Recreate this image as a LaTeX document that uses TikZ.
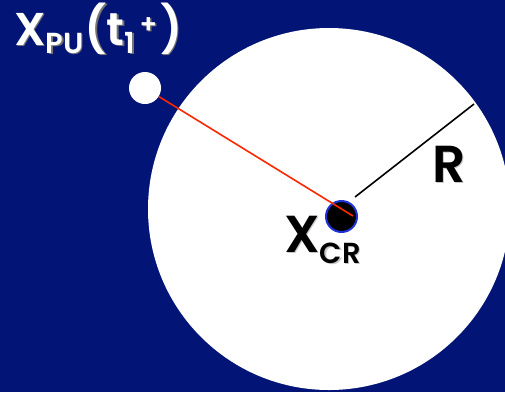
\documentclass[tikz,border=0pt]{standalone}
\usepackage{fontspec}
\setmainfont{Poppins}[BoldFont={Poppins SemiBold}]
\usetikzlibrary{positioning}
\definecolor{slidebg}{RGB}{2,20,118}
\definecolor{redline}{RGB}{250,40,0}
\definecolor{dotrim}{RGB}{30,50,215}
\newcommand{\sublbl}[2][8pt]{\raisebox{-#1}{\fontsize{29}{29}\selectfont #2}}
\newcommand{\suplbl}[1]{\raisebox{12pt}{\fontsize{26}{26}\selectfont #1}}
\newcommand{\castshadow}[2]{\rlap{\kern1.5pt\raisebox{-1.5pt}{\color{#1}#2}}#2}

\begin{document}
\begin{tikzpicture}[x=1pt, y=-1pt,
    dot/.style={circle, minimum size=32pt, inner sep=0pt},
    lbl/.style={font=\bfseries\fontsize{46}{46}\selectfont, inner sep=0pt, anchor=base west},
    biglbl/.style={lbl, font=\bfseries\fontsize{52}{52}\selectfont},
    radial/.style={line width=1.6pt}]
  \fill[slidebg] (0,0) rectangle (505,392);
  \useasboundingbox (0,0) rectangle (505,392);
  \fill[white] (329,209) circle[radius=181pt];
  \node[dot, fill=white] (pu) at (145,88) {};
  \node[dot, fill=black, draw=dotrim, line width=2pt, minimum size=31pt] (cr) at (341.5,216.5) {};
  \coordinate (hit) at (353,216);
  \coordinate (rfoot) at (355,197);
  \coordinate (rtip) at (474,104);
  \draw[radial, redline] (pu) -- (hit);
  \draw[radial] (rfoot) -- (rtip);
  \node[lbl, text=white] (puname) at (14,45)
    {\castshadow{black!55}{X\sublbl{PU}\kern1pt(t\sublbl{1}\suplbl{\,+}\kern3pt)}};
  \node[biglbl] (crname) at (284,252) {\castshadow{black!22}{X\sublbl[11pt]{CR}}};
  \node[biglbl] (rname) at (432,182) {\castshadow{black!22}{R}};
\end{tikzpicture}
\end{document}
